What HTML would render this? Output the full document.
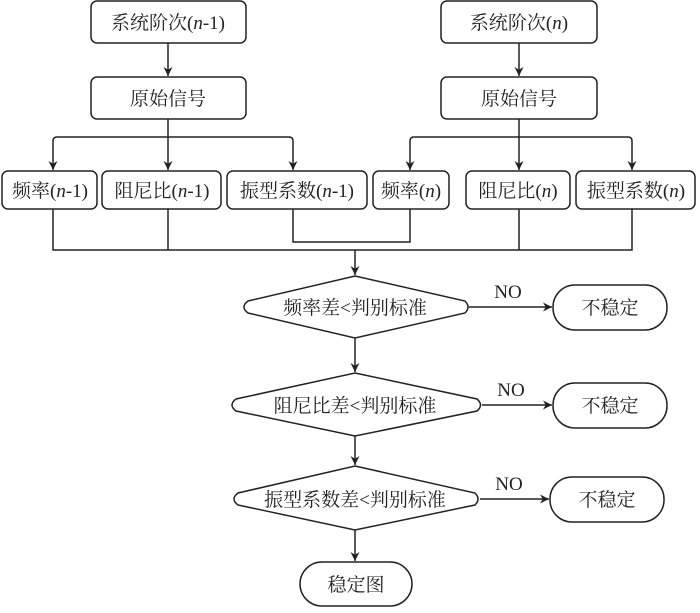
<!DOCTYPE html>
<html><head><meta charset="utf-8"><style>
body{margin:0;background:#fff}
svg text{font-family:"Liberation Serif","Noto Serif CJK SC",serif;font-size:19px;fill:#222}
</style></head><body>
<svg width="700" height="608" viewBox="0 0 700 608" xmlns="http://www.w3.org/2000/svg">
<defs><marker id="a" viewBox="0 0 10 10" refX="10" refY="5" markerWidth="9" markerHeight="9" orient="auto" markerUnits="userSpaceOnUse"><path d="M0,0L10,5L0,10L3,5Z" fill="#222"/></marker></defs>
<g fill="none" stroke="#222" stroke-width="1.5">
<rect x="91" y="1" width="155" height="42" rx="6"/>
<rect x="441" y="1" width="156" height="42" rx="6"/>
<rect x="91" y="77" width="155" height="42" rx="6"/>
<rect x="441" y="77" width="156" height="42" rx="6"/>
<rect x="2" y="171" width="95" height="38" rx="6"/>
<rect x="102" y="171" width="119" height="38" rx="6"/>
<rect x="227" y="171" width="140" height="38" rx="6"/>
<rect x="373" y="171" width="76" height="38" rx="6"/>
<rect x="466" y="171" width="104" height="38" rx="6"/>
<rect x="576" y="171" width="119" height="38" rx="6"/>
<path d="M168,43V76" marker-end="url(#a)"/>
<path d="M519,43V76" marker-end="url(#a)"/>
<path d="M168,119V170"  marker-end="url(#a)"/>
<path d="M168,137H57Q53,137 53,141V170" marker-end="url(#a)"/>
<path d="M168,137H289Q293,137 293,141V170" marker-end="url(#a)"/>
<path d="M519,119V170" marker-end="url(#a)"/>
<path d="M519,137H414Q410,137 410,141V170" marker-end="url(#a)"/>
<path d="M519,137H628Q632,137 632,141V170" marker-end="url(#a)"/>
<path d="M53,209V250H632V209M168,209V250M519,209V250"/>
<path d="M293,209V242H410V209"/>
<path d="M355,250V275" marker-end="url(#a)"/>
<path d="M355,276L465,301Q471,307 465,313L355,338L248,313Q240,307 248,301Z"/>
<path d="M355,373L477,399Q484,405 477,411L355,436L236,411Q228,405 236,399Z"/>
<path d="M355,466L475,493Q481,499 475,505L355,530L238,505Q230,499 238,493Z"/>
<path d="M355,338V372" marker-end="url(#a)"/>
<path d="M355,436V465" marker-end="url(#a)"/>
<path d="M355,530V561" marker-end="url(#a)"/>
<path d="M469,307H552" marker-end="url(#a)"/>
<path d="M482,405H552" marker-end="url(#a)"/>
<path d="M480,499H549" marker-end="url(#a)"/>
<rect x="553" y="285" width="114" height="45" rx="22"/>
<rect x="553" y="383" width="114" height="45" rx="22"/>
<rect x="550" y="477" width="114" height="45" rx="22"/>
<rect x="300" y="562" width="112" height="44" rx="22"/>
</g>
<g text-anchor="middle">
<text x="168" y="29">系统阶次(<tspan font-style="italic">n</tspan>-1)</text>
<text x="519" y="29">系统阶次(<tspan font-style="italic">n</tspan>)</text>
<text x="168" y="105">原始信号</text>
<text x="519" y="105">原始信号</text>
<text x="50" y="197">频率(<tspan font-style="italic">n</tspan>-1)</text>
<text x="162" y="197">阻尼比(<tspan font-style="italic">n</tspan>-1)</text>
<text x="297" y="197">振型系数(<tspan font-style="italic">n</tspan>-1)</text>
<text x="411" y="197">频率(<tspan font-style="italic">n</tspan>)</text>
<text x="518" y="197">阻尼比(<tspan font-style="italic">n</tspan>)</text>
<text x="636" y="197">振型系数(<tspan font-style="italic">n</tspan>)</text>
<text x="355" y="314">频率差&lt;判别标准</text>
<text x="355" y="412">阻尼比差&lt;判别标准</text>
<text x="355" y="506">振型系数差&lt;判别标准</text>
<text x="610" y="314">不稳定</text>
<text x="610" y="412">不稳定</text>
<text x="607" y="506">不稳定</text>
<text x="356" y="591">稳定图</text>
<text x="508" y="298">NO</text>
<text x="511" y="396">NO</text>
<text x="509" y="490">NO</text>
</g>
</svg>
</body></html>
